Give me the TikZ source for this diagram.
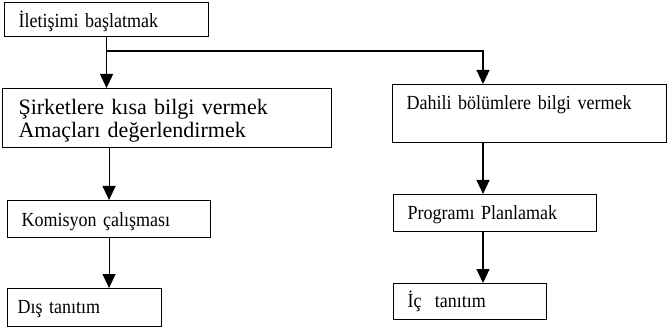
\documentclass[tikz,border=0pt]{standalone}
\usepackage{fontspec}
\setmainfont{Liberation Serif}
\newfontfamily\dar[FakeStretch=0.9]{Liberation Serif}
\usetikzlibrary{arrows.meta}

\begin{document}
\begin{tikzpicture}[x=1pt, y=-1pt, line width=1.1pt, every node/.style={draw, rectangle, anchor=north west, align=left, inner xsep=14pt, inner ysep=0pt, font=\dar\fontsize{20}{23}\selectfont}, ok/.style={-{Triangle[length=14pt, width=13pt]}}]
\useasboundingbox (0,0) rectangle (668,328);
\node[text width=176pt, text height=25pt, text depth=9pt] (basla) at (4,2) {İletişimi başlatmak};
\node[text width=297pt, text height=26pt, text depth=33pt, inner xsep=16pt, font=\fontsize{22}{23}\selectfont] (sirket) at (2,88) {Şirketlere kısa bilgi vermek\\Amaçları değerlendirmek};
\node[text width=246pt, text height=25pt, text depth=33pt] (dahili) at (392,84) {Dahili bölümlere bilgi vermek};
\node[text width=175pt, text height=26pt, text depth=11pt] (komisyon) at (7,200) {Komisyon çalışması};
\node[text width=134pt, text height=25pt, text depth=13pt, inner xsep=10pt] (dis) at (7,288) {Dış tanıtım};
\node[text width=175pt, text height=25pt, text depth=12pt] (program) at (393,194) {Programı Planlamak};
\node[text width=125pt, text height=24pt, text depth=12pt] (ic) at (393,283) {İç\ \ tanıtım};
\coordinate (sag) at (483,51);
\draw[ok] (basla.south) -- (basla.south |- sirket.north);
\draw[ok] (basla.south |- sag) -- (sag) -- (sag |- dahili.north);
\draw[ok] (komisyon.north |- sirket.south) -- (komisyon.north);
\draw[ok] (komisyon.south) -- (komisyon.south |- dis.north);
\draw[ok] (sag |- dahili.south) -- (sag |- program.north);
\draw[ok] (sag |- program.south) -- (sag |- ic.north);
\end{tikzpicture}
\end{document}
